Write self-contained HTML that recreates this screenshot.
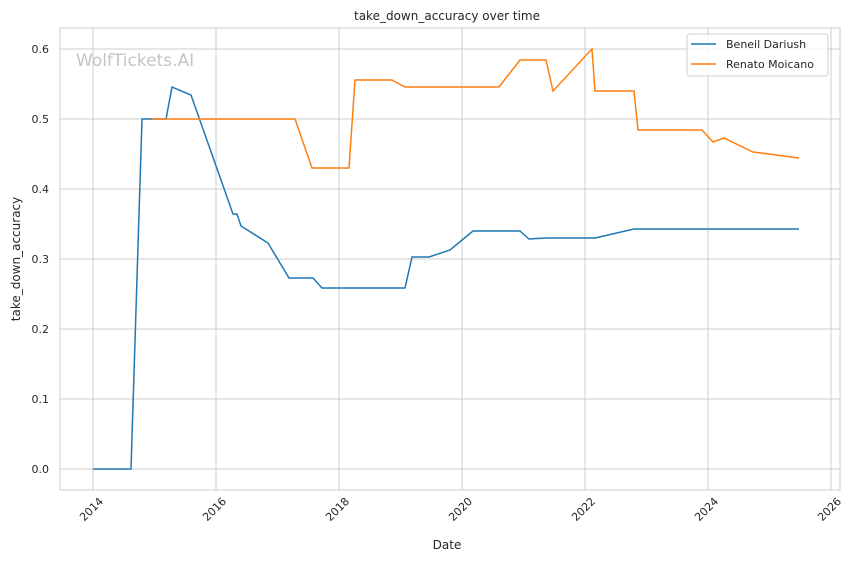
<!DOCTYPE html>
<html><head><meta charset="utf-8"><style>
body{margin:0;background:#fff;}
svg text{font-family:"DejaVu Sans","Liberation Sans",sans-serif;}
</style></head><body>
<svg width="856" height="561" viewBox="0 0 856 561" xmlns="http://www.w3.org/2000/svg">
<rect width="856" height="561" fill="#fff"/>
<g stroke="#cccccc" stroke-width="1">
<line x1="93" y1="28" x2="93" y2="490"/><line x1="216" y1="28" x2="216" y2="490"/><line x1="339" y1="28" x2="339" y2="490"/><line x1="462" y1="28" x2="462" y2="490"/><line x1="585" y1="28" x2="585" y2="490"/><line x1="708" y1="28" x2="708" y2="490"/><line x1="831" y1="28" x2="831" y2="490"/>
<line x1="60" y1="469" x2="840" y2="469"/><line x1="60" y1="399" x2="840" y2="399"/><line x1="60" y1="329" x2="840" y2="329"/><line x1="60" y1="259" x2="840" y2="259"/><line x1="60" y1="189" x2="840" y2="189"/><line x1="60" y1="119" x2="840" y2="119"/><line x1="60" y1="49" x2="840" y2="49"/>
</g>
<rect x="60" y="28" width="780" height="462" fill="none" stroke="#cccccc" stroke-width="1"/>
<text x="76" y="66" font-size="17" fill="#c4c4c4">WolfTickets.AI</text>
<polyline fill="none" stroke="#1f77b4" stroke-width="1.5" points="93,469 131,469 142,119 166,119 172,87 191,95 233,214 237,214 241,226 268,243 289,278 313,278 322,288 405,288 412,257 429,257 450,250 473,231 520,231 529,239 546,238 595,238 634,229 799,229"/>
<polyline fill="none" stroke="#ff7f0e" stroke-width="1.5" points="152,119 295,119 312,168 349,168 355,80 392,80 405,87 499,87 520,60 546,60 553,91 592,49 595,91 634,91 638,130 702,130 713,142 724,138 753,152 799,158"/>
<g font-size="11" fill="#262626" text-anchor="end">
<text x="49" y="473">0.0</text><text x="49" y="403">0.1</text><text x="49" y="333">0.2</text><text x="49" y="263">0.3</text><text x="49" y="193">0.4</text><text x="49" y="123">0.5</text><text x="49" y="53">0.6</text>
</g>
<g font-size="11" fill="#262626" text-anchor="end">
<text transform="translate(104,502) rotate(-45)">2014</text>
<text transform="translate(227,502) rotate(-45)">2016</text>
<text transform="translate(350,502) rotate(-45)">2018</text>
<text transform="translate(473,502) rotate(-45)">2020</text>
<text transform="translate(596,502) rotate(-45)">2022</text>
<text transform="translate(719,502) rotate(-45)">2024</text>
<text transform="translate(842,502) rotate(-45)">2026</text>
</g>
<text x="447" y="549" font-size="12" fill="#262626" text-anchor="middle">Date</text>
<text transform="translate(20,259) rotate(-90)" font-size="12" fill="#262626" text-anchor="middle">take_down_accuracy</text>
<text x="447" y="20" font-size="12" fill="#262626" text-anchor="middle">take_down_accuracy over time</text>
<rect x="687" y="34" width="141" height="42" rx="3" fill="#fff" fill-opacity="0.8" stroke="#d0d0d0"/>
<line x1="691" y1="44" x2="716" y2="44" stroke="#1f77b4" stroke-width="1.5"/>
<text x="726" y="48" font-size="11" fill="#262626">Beneil Dariush</text>
<line x1="691" y1="64" x2="716" y2="64" stroke="#ff7f0e" stroke-width="1.5"/>
<text x="726" y="68" font-size="11" fill="#262626">Renato Moicano</text>
</svg>
</body></html>
